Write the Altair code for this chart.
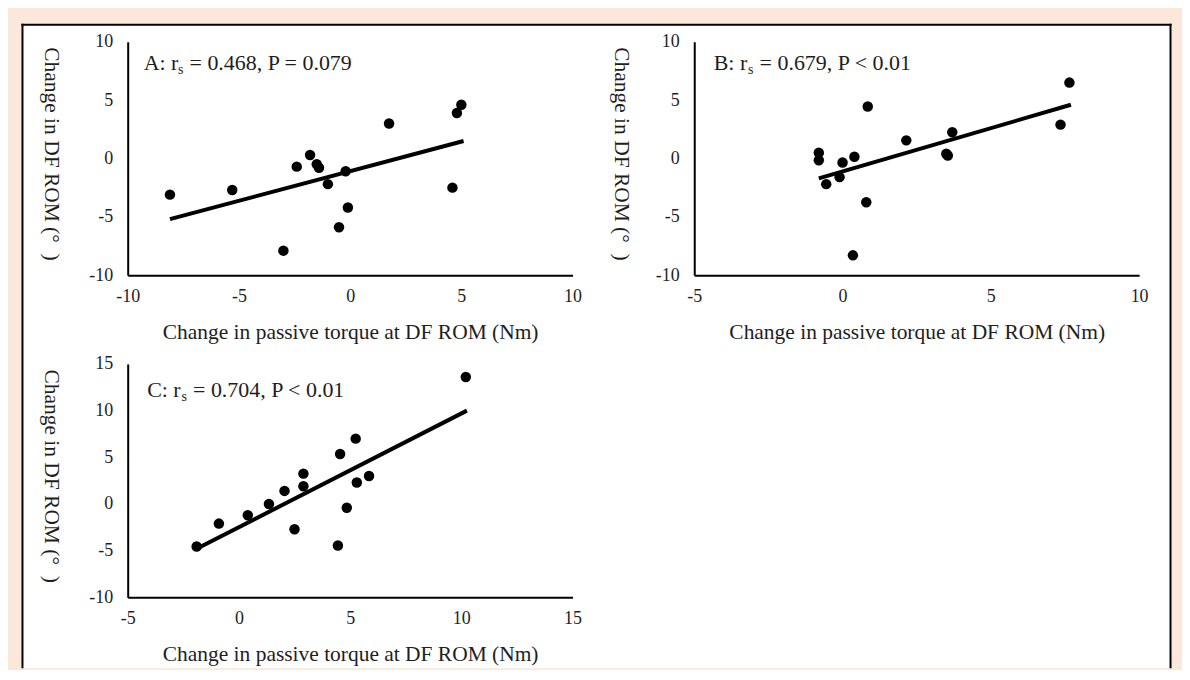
import altair as alt
import pandas as pd

FONT = "Liberation Serif"
X_TITLE = "Change in passive torque at DF ROM (Nm)"
Y_TITLE = "Change in DF ROM (°\u00a0\u00a0)"

# ---------------- data ----------------
# Panel A
a_x = [-8.1, -5.3, -3.0, -2.4, -1.8, -1.5, -1.4, -1.0, -0.2, -0.1, -0.5, 1.75, 4.6, 4.8, 5.0]
a_y = [-3.1, -2.7, -7.9, -0.7, 0.3, -0.5, -0.8, -2.2, -1.1, -4.2, -5.9, 3.0, -2.5, 3.9, 4.6]
a_fit_x = [-8.1, 5.1]
a_fit_y = [-5.2, 1.5]
a_xticks = [-10, -5, 0, 5, 10]
a_yticks = [-10, -5, 0, 5, 10]
a_label = ["A: r", "s", "= 0.468, P = 0.079"]

# Panel B
b_x = [-0.8, -0.8, -0.55, -0.1, 0.0, 0.4, 0.35, 0.8, 0.85, 2.15, 3.5, 3.55, 3.7, 7.35, 7.65]
b_y = [0.5, -0.15, -2.2, -1.6, -0.35, 0.15, -8.3, -3.75, 4.45, 1.55, 0.4, 0.25, 2.25, 2.9, 6.5]
b_fit_x = [-0.8, 7.7]
b_fit_y = [-1.7, 4.6]
b_xticks = [-5, 0, 5, 10]
b_yticks = [-10, -5, 0, 5, 10]
b_label = ["B: r", "s", "= 0.679, P < 0.01"]

# Panel C
c_x = [-1.9, -0.9, 0.4, 1.35, 2.05, 2.5, 2.9, 2.9, 4.45, 4.55, 4.85, 5.25, 5.3, 5.85, 10.2]
c_y = [-4.55, -2.1, -1.2, 0.0, 1.4, -2.7, 3.25, 1.9, -4.45, 5.35, -0.4, 7.0, 2.3, 3.0, 13.6]
c_fit_x = [-1.9, 10.25]
c_fit_y = [-4.8, 10.0]
c_xticks = [-5, 0, 5, 10, 15]
c_yticks = [-10, -5, 0, 5, 10, 15]
c_label = ["C: r", "s", "= 0.704, P < 0.01"]

W, H = 446, 234
TXT = "#1e1e1e"
ANN = 22


def panel(xs, ys, fx, fy, xticks, yticks, label, ytitle_x, ann_x, ann_y, frame=False):
    xsc = alt.Scale(domain=[xticks[0], xticks[-1]], nice=False, zero=False)
    ysc = alt.Scale(domain=[yticks[0], yticks[-1]], nice=False, zero=False)
    xax = alt.Axis(values=xticks, title=X_TITLE, grid=False, ticks=False, tickSize=0,
                   domainColor="black", domainWidth=2, labelFont=FONT, labelFontSize=18,
                   labelColor=TXT, labelPadding=12, labelFlush=False, labelOverlap=False,
                   labelExpr="datum.value + ''",
                   titleFont=FONT, titleFontSize=21.5, titleFontWeight="normal", titleColor=TXT,
                   titleY=57, titleBaseline="middle", zindex=1)
    yax = alt.Axis(values=yticks, title=Y_TITLE, grid=False, ticks=False, tickSize=0,
                   domainColor="black", domainWidth=2, labelFont=FONT, labelFontSize=18,
                   labelColor=TXT, labelPadding=15, labelFlush=False, labelOverlap=False,
                   labelExpr="datum.value + ''",
                   titleFont=FONT, titleFontSize=21.5, titleFontWeight="normal", titleColor=TXT,
                   titleAngle=90, titleX=ytitle_x, titleY=112, titleAlign="center",
                   titleBaseline="middle", zindex=1)
    X = alt.X("x:Q", scale=xsc, axis=xax)
    Y = alt.Y("y:Q", scale=ysc, axis=yax)

    pts = alt.Chart(pd.DataFrame({"x": xs, "y": ys})).mark_circle(
        size=110, color="black", opacity=1).encode(x=X, y=Y)
    fit = alt.Chart(pd.DataFrame({"x": fx, "y": fy})).mark_line(
        color="black", strokeWidth=4).encode(x=X, y=Y)

    one = pd.DataFrame({"t": [0]})
    t1 = alt.Chart(pd.DataFrame({"t": [label[0]]})).mark_text(
        font=FONT, fontSize=ANN, color=TXT, align="left", baseline="alphabetic").encode(
        text="t:N", x=alt.value(ann_x), y=alt.value(ann_y))
    t2 = alt.Chart(pd.DataFrame({"t": [label[1]]})).mark_text(
        font=FONT, fontSize=14, color=TXT, align="left", baseline="alphabetic").encode(
        text="t:N", x=alt.value(ann_x + 34.5), y=alt.value(ann_y + 4.5))
    t3 = alt.Chart(pd.DataFrame({"t": [label[2]]})).mark_text(
        font=FONT, fontSize=ANN, color=TXT, align="left", baseline="alphabetic").encode(
        text="t:N", x=alt.value(ann_x + 46), y=alt.value(ann_y))

    layers = []
    if frame:
        L, R, T, B = -106.5, 1046.5, -18, 628
        bg = alt.Chart(one).mark_rect(color="white", opacity=1).encode(
            x=alt.value(L), x2=alt.value(R), y=alt.value(T), y2=alt.value(B))
        top = alt.Chart(one).mark_rule(color="black", strokeWidth=2).encode(
            x=alt.value(L), x2=alt.value(R), y=alt.value(T + 1), y2=alt.value(T + 1))
        left = alt.Chart(one).mark_rule(color="black", strokeWidth=2).encode(
            x=alt.value(L + 1), x2=alt.value(L + 1), y=alt.value(T), y2=alt.value(B))
        right = alt.Chart(one).mark_rule(color="black", strokeWidth=2).encode(
            x=alt.value(R - 1), x2=alt.value(R - 1), y=alt.value(T), y2=alt.value(B))
        layers += [bg, top, left, right]
    layers += [fit, pts, t1, t2, t3]
    return alt.layer(*layers).properties(width=W, height=H)


pA = panel(a_x, a_y, a_fit_x, a_fit_y, a_xticks, a_yticks, a_label, -77, 16, 28, frame=True)
pB = panel(b_x, b_y, b_fit_x, b_fit_y, b_xticks, b_yticks, b_label, -74, 19.5, 28)
pC = panel(c_x, c_y, c_fit_x, c_fit_y, c_xticks, c_yticks, c_label, -77, 19.5, 33)

chart = alt.concat(pA, pB, pC, columns=2, spacing={"row": 89, "column": 122}, bounds="flush").properties(
    background="#FCE8DA",
    padding={"left": 12, "top": 14, "right": 9, "bottom": 0},
).configure_view(strokeWidth=0)

chart.save("out.html", embed_options={"renderer": "svg", "actions": False})
